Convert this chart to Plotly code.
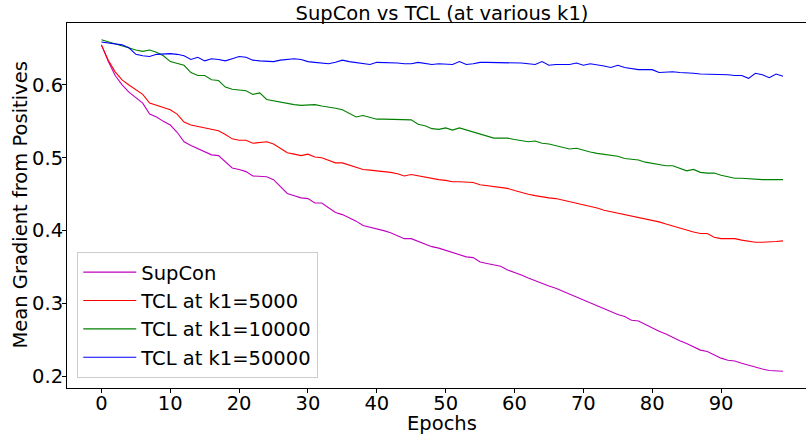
import plotly.graph_objects as go

epochs = list(range(100))

supcon = [0.655, 0.632, 0.613, 0.600, 0.590, 0.582, 0.575, 0.560, 0.556, 0.550,
          0.545, 0.535, 0.522, 0.517, 0.513, 0.509, 0.504, 0.503, 0.495, 0.486,
          0.484, 0.481, 0.475, 0.474, 0.474, 0.470, 0.461, 0.451, 0.448, 0.445,
          0.444, 0.438, 0.438, 0.432, 0.425, 0.422, 0.418, 0.413, 0.407, 0.405,
          0.403, 0.400, 0.397, 0.393, 0.389, 0.389, 0.385, 0.382, 0.378, 0.376,
          0.373, 0.370, 0.366, 0.364, 0.363, 0.357, 0.355, 0.353, 0.351, 0.346,
          0.343, 0.339, 0.335, 0.331, 0.327, 0.324, 0.321, 0.317, 0.313, 0.309,
          0.304, 0.300, 0.296, 0.292, 0.288, 0.285, 0.282, 0.277, 0.276, 0.271,
          0.266, 0.262, 0.258, 0.253, 0.249, 0.245, 0.241, 0.236, 0.234, 0.229,
          0.225, 0.222, 0.221, 0.218, 0.215, 0.212, 0.210, 0.208, 0.207, 0.207]

tcl_5000 = [0.655, 0.634, 0.618, 0.607, 0.600, 0.594, 0.587, 0.575, 0.572, 0.569,
            0.566, 0.560, 0.549, 0.545, 0.543, 0.541, 0.538, 0.537, 0.532, 0.526,
            0.524, 0.524, 0.520, 0.521, 0.522, 0.519, 0.513, 0.507, 0.505, 0.503,
            0.505, 0.501, 0.500, 0.496, 0.493, 0.493, 0.490, 0.486, 0.484, 0.483,
            0.482, 0.481, 0.480, 0.478, 0.475, 0.477, 0.475, 0.473, 0.471, 0.470,
            0.469, 0.467, 0.467, 0.466, 0.466, 0.463, 0.462, 0.461, 0.460, 0.458,
            0.455, 0.452, 0.450, 0.448, 0.446, 0.445, 0.444, 0.442, 0.440, 0.437,
            0.435, 0.433, 0.431, 0.428, 0.426, 0.424, 0.422, 0.421, 0.419, 0.416,
            0.414, 0.412, 0.409, 0.406, 0.403, 0.401, 0.398, 0.396, 0.396, 0.391,
            0.389, 0.389, 0.389, 0.387, 0.385, 0.384, 0.384, 0.384, 0.385, 0.386]

tcl_10000 = [0.662, 0.659, 0.656, 0.653, 0.650, 0.648, 0.646, 0.648, 0.645, 0.640,
             0.632, 0.629, 0.627, 0.617, 0.613, 0.613, 0.607, 0.606, 0.597, 0.594,
             0.593, 0.592, 0.587, 0.589, 0.580, 0.578, 0.576, 0.574, 0.573, 0.572,
             0.573, 0.573, 0.571, 0.570, 0.568, 0.566, 0.561, 0.556, 0.558, 0.555,
             0.553, 0.553, 0.553, 0.552, 0.553, 0.552, 0.546, 0.544, 0.540, 0.539,
             0.541, 0.538, 0.541, 0.538, 0.536, 0.533, 0.530, 0.527, 0.527, 0.527,
             0.525, 0.523, 0.522, 0.523, 0.520, 0.519, 0.517, 0.515, 0.512, 0.513,
             0.510, 0.508, 0.506, 0.505, 0.504, 0.502, 0.499, 0.498, 0.497, 0.494,
             0.492, 0.490, 0.489, 0.489, 0.486, 0.482, 0.484, 0.480, 0.479, 0.479,
             0.476, 0.474, 0.472, 0.472, 0.471, 0.470, 0.470, 0.470, 0.470, 0.470]

tcl_50000 = [0.659, 0.658, 0.657, 0.655, 0.651, 0.642, 0.640, 0.639, 0.642, 0.643,
             0.643, 0.642, 0.640, 0.635, 0.638, 0.633, 0.636, 0.635, 0.633, 0.636,
             0.639, 0.638, 0.634, 0.633, 0.632, 0.632, 0.634, 0.635, 0.636, 0.635,
             0.632, 0.631, 0.630, 0.629, 0.631, 0.634, 0.632, 0.631, 0.630, 0.628,
             0.631, 0.631, 0.631, 0.630, 0.629, 0.629, 0.631, 0.630, 0.628, 0.629,
             0.629, 0.628, 0.632, 0.628, 0.629, 0.631, 0.631, 0.631, 0.631, 0.630,
             0.630, 0.630, 0.629, 0.628, 0.632, 0.627, 0.628, 0.628, 0.628, 0.630,
             0.627, 0.629, 0.628, 0.626, 0.624, 0.627, 0.624, 0.622, 0.621, 0.621,
             0.621, 0.617, 0.618, 0.618, 0.617, 0.617, 0.616, 0.615, 0.615, 0.614,
             0.614, 0.614, 0.613, 0.613, 0.609, 0.616, 0.614, 0.610, 0.615, 0.612]

series_names = ["SupCon", "TCL at k1=5000", "TCL at k1=10000", "TCL at k1=50000"]
series_values = [supcon, tcl_5000, tcl_10000, tcl_50000]
series_colors = ["#bf00bf", "#ff0000", "#008000", "#0000ff"]

x_ticks = list(range(0, 100, 10))
y_ticks = [0.2, 0.3, 0.4, 0.5, 0.6]

FONT = "DejaVu Sans"
FS = 19.5

fig = go.Figure()
for name, vals, col in zip(series_names, series_values, series_colors):
    fig.add_trace(go.Scatter(x=epochs, y=vals, mode="lines", name=name,
                             line=dict(color=col, width=1.1)))

fig.update_layout(
    width=806, height=436,
    margin=dict(l=67, r=0, t=23, b=48),
    paper_bgcolor="white", plot_bgcolor="white",
    font=dict(family=FONT, size=FS, color="black"),
    showlegend=True,
    legend=dict(x=0.0139, y=0.0274, xanchor="left", yanchor="bottom",
                bgcolor="rgba(255,255,255,0.8)", bordercolor="#cccccc",
                borderwidth=1, font=dict(family=FONT, size=FS, color="black"),
                itemwidth=53),
    title=dict(text="SupCon vs TCL (at various k1)", x=442 / 806, xref="container",
               xanchor="center", y=1 - 13 / 436, yref="container", yanchor="middle",
               font=dict(family=FONT, size=FS, color="black")),
)

fig.update_xaxes(range=[-5, 102.34], tickvals=x_ticks, ticks="outside", ticklen=4,
                 tickcolor="black", showline=True, linecolor="black", linewidth=1,
                 mirror=True, showgrid=False, zeroline=False, ticklabelstandoff=-6,
                 tickfont=dict(family=FONT, size=FS, color="black"))
fig.update_yaxes(range=[0.184, 0.685], tickvals=y_ticks, tickformat=".1f",
                 ticks="outside", ticklen=4, tickcolor="black", showline=True,
                 linecolor="black", linewidth=1, showgrid=False, zeroline=False,
                 ticklabelstandoff=-5,
                 tickfont=dict(family=FONT, size=FS, color="black"))

fig.add_annotation(text="Mean Gradient from Positives", textangle=-90,
                   xref="paper", yref="paper", x=0, y=0.5, xanchor="center",
                   yanchor="middle", xshift=20 - 67, showarrow=False,
                   font=dict(family=FONT, size=FS, color="black"))
fig.add_annotation(text="Epochs", xref="paper", yref="paper", x=(442 - 67) / 739,
                   y=0, xanchor="center", yanchor="middle", yshift=-(423 - 388),
                   showarrow=False, font=dict(family=FONT, size=FS, color="black"))

fig.write_html("out.html")
